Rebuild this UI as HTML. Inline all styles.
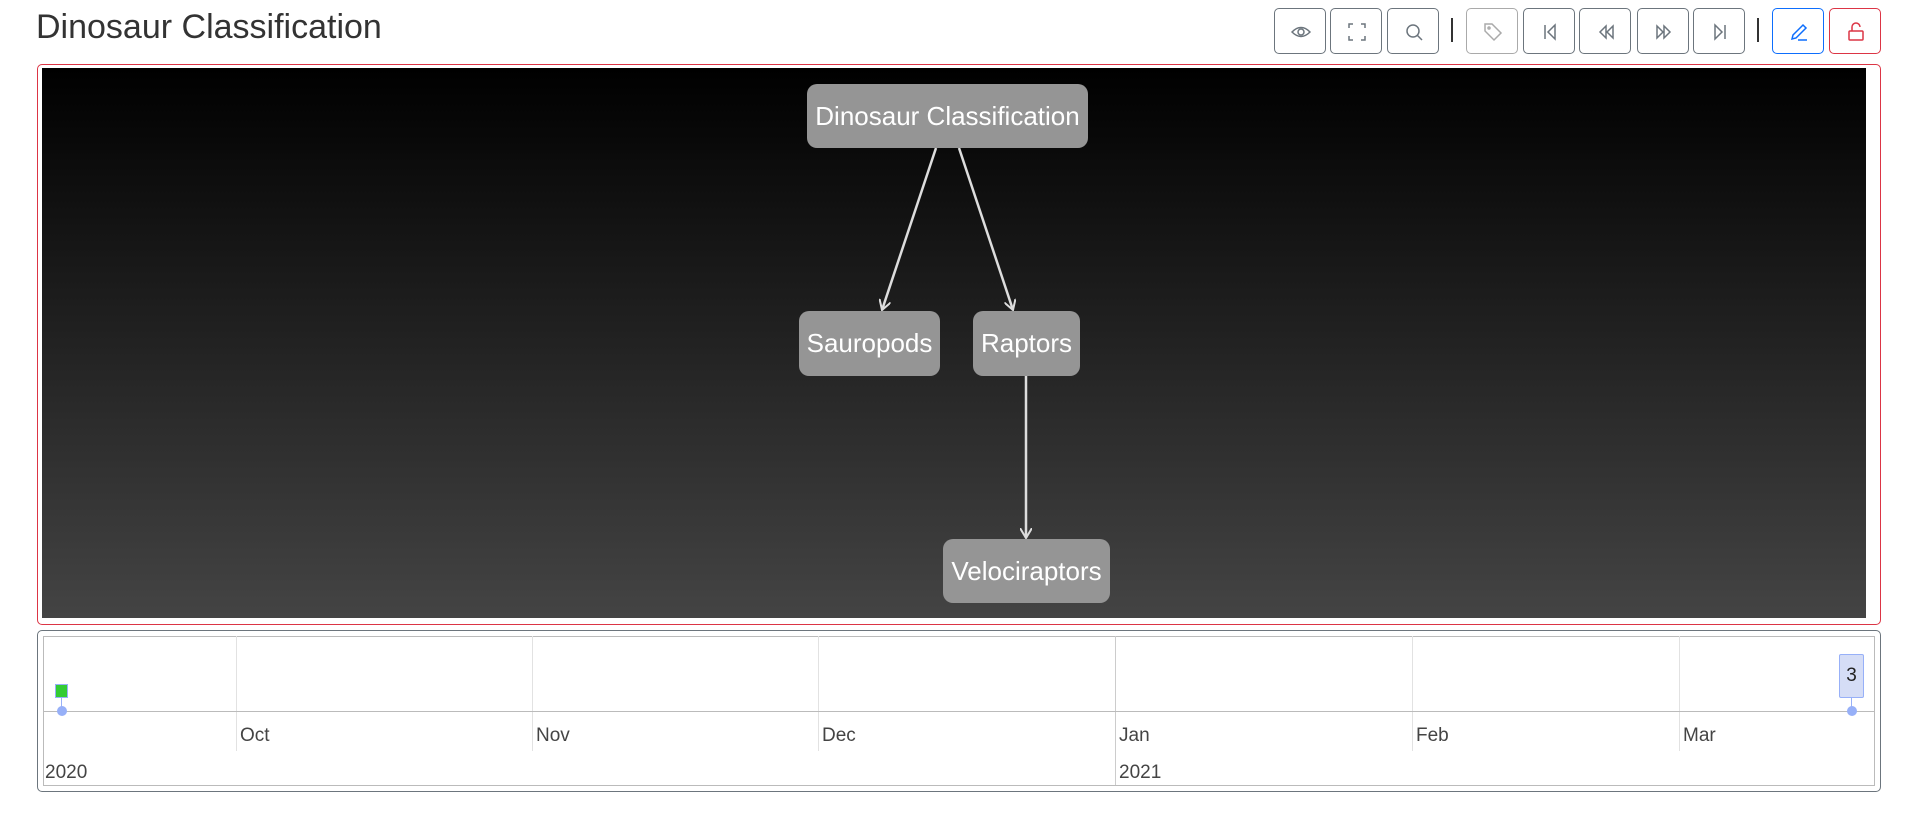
<!DOCTYPE html>
<html><head><meta charset="utf-8"><style>
body{margin:0;width:1915px;height:831px;background:#fff;font-family:"Liberation Sans",sans-serif;position:relative;overflow:hidden}
.a{position:absolute;box-sizing:border-box}
.btn{position:absolute;top:8px;width:52px;height:46px;border:1px solid #6c757d;border-radius:5px;box-sizing:border-box}
.btn svg{position:absolute;left:16px;top:13px}
.sep{position:absolute;top:18px;width:2px;height:24px;background:#333}
.node{position:absolute;box-sizing:border-box;background:#959595;color:#fff;border-radius:10px;font-size:26px;display:flex;align-items:center;justify-content:center}
.g{position:absolute;top:636px;width:1px;height:115px;background:#e2e2e2}
.lbl{position:absolute;top:725px;font-size:19px;color:#444}
</style></head><body>
<div class="a" style="left:36px;top:8px;font-size:34px;color:#333">Dinosaur Classification</div>

<div class="btn" style="left:1274px"><svg width="20" height="20" viewBox="0 0 20 20" fill="none" stroke="#6c757d" stroke-width="1.5"><path d="M1 10 Q10 1 19 10 Q10 19 1 10Z"/><circle cx="10" cy="10" r="3"/></svg></div>
<div class="btn" style="left:1330px"><svg width="20" height="20" viewBox="0 0 20 20" fill="none" stroke="#6c757d" stroke-width="1.5"><path d="M2 6V2H6M14 2H18V6M18 14V18H14M6 18H2V14"/></svg></div>
<div class="btn" style="left:1387px"><svg width="20" height="20" viewBox="0 0 20 20" fill="none" stroke="#6c757d" stroke-width="1.5"><circle cx="9" cy="9" r="6"/><path d="M13 13L18 18"/></svg></div>
<div class="sep" style="left:1451px"></div>
<div class="btn" style="left:1466px;border-color:#aaa"><svg width="20" height="20" viewBox="0 0 20 20" fill="none" stroke="#aaa" stroke-width="1.5"><path d="M2 2H9L18 11L11 18L2 9Z"/><circle cx="6" cy="6" r="1"/></svg></div>
<div class="btn" style="left:1523px"><svg width="20" height="20" viewBox="0 0 20 20" fill="none" stroke="#6c757d" stroke-width="1.5"><path d="M5 3V17M15 3L8 10L15 17Z"/></svg></div>
<div class="btn" style="left:1579px"><svg width="20" height="20" viewBox="0 0 20 20" fill="none" stroke="#6c757d" stroke-width="1.5"><path d="M10 4L4 10L10 16ZM17 4L11 10L17 16Z"/></svg></div>
<div class="btn" style="left:1637px"><svg width="20" height="20" viewBox="0 0 20 20" fill="none" stroke="#6c757d" stroke-width="1.5"><path d="M3 4L9 10L3 16ZM10 4L16 10L10 16Z"/></svg></div>
<div class="btn" style="left:1693px"><svg width="20" height="20" viewBox="0 0 20 20" fill="none" stroke="#6c757d" stroke-width="1.5"><path d="M15 3V17M5 3L12 10L5 17Z"/></svg></div>
<div class="sep" style="left:1757px"></div>
<div class="btn" style="left:1772px;border-color:#0d6efd"><svg width="20" height="20" viewBox="0 0 20 20" fill="none" stroke="#0d6efd" stroke-width="1.5"><path d="M3 17L4 13L14 3L17 6L7 16Z M9 18H18"/></svg></div>
<div class="btn" style="left:1829px;border-color:#dc3545"><svg width="20" height="20" viewBox="0 0 20 20" fill="none" stroke="#dc3545" stroke-width="1.5"><rect x="3" y="9" width="14" height="9" rx="1"/><path d="M6 9V5A4 4 0 0 1 14 5"/></svg></div>

<div class="a" style="left:37px;top:64px;width:1844px;height:561px;border:1px solid #dc3545;border-radius:5px"></div>
<div class="a" style="left:42px;top:68px;width:1824px;height:550px;background:linear-gradient(#000,#444)"></div>
<svg class="a" style="left:0;top:0" width="1915" height="831">
<defs><marker id="m" markerWidth="12" markerHeight="12" refX="10" refY="6" orient="auto" markerUnits="userSpaceOnUse"><path d="M0 0L10 6L0 12" fill="none" stroke="#ddd" stroke-width="2"/></marker></defs>
<g stroke="#ddd" stroke-width="2.5" fill="none">
<line x1="936" y1="148" x2="882" y2="310" marker-end="url(#m)"/>
<line x1="959" y1="148" x2="1013" y2="310" marker-end="url(#m)"/>
<line x1="1026" y1="376" x2="1026" y2="538" marker-end="url(#m)"/>
</g></svg>
<div class="node" style="left:807px;top:84px;width:281px;height:64px">Dinosaur Classification</div>
<div class="node" style="left:799px;top:311px;width:141px;height:65px">Sauropods</div>
<div class="node" style="left:973px;top:311px;width:107px;height:65px">Raptors</div>
<div class="node" style="left:943px;top:539px;width:167px;height:64px">Velociraptors</div>

<div class="a" style="left:37px;top:630px;width:1844px;height:162px;border:1px solid #6c757d;border-radius:5px"></div>
<div class="a" style="left:43px;top:636px;width:1832px;height:150px;border:1px solid #bbb"></div>
<div class="g" style="left:236px"></div><div class="g" style="left:532px"></div><div class="g" style="left:818px"></div>
<div class="g" style="left:1115px;height:149px;background:#ccc"></div><div class="g" style="left:1412px"></div><div class="g" style="left:1679px"></div>
<div class="a" style="left:43px;top:711px;width:1832px;height:1px;background:#bbb"></div>
<div class="lbl" style="left:240px">Oct</div><div class="lbl" style="left:536px">Nov</div><div class="lbl" style="left:822px">Dec</div>
<div class="lbl" style="left:1119px">Jan</div><div class="lbl" style="left:1416px">Feb</div><div class="lbl" style="left:1683px">Mar</div>
<div class="lbl" style="left:45px;top:762px">2020</div><div class="lbl" style="left:1119px;top:762px">2021</div>
<div class="a" style="left:61px;top:697px;width:1px;height:14px;background:#97b0f8"></div>
<div class="a" style="left:55px;top:684px;width:13px;height:14px;background:#33cc33;border:1px solid #97b0f8"></div>
<div class="a" style="left:57px;top:706px;width:10px;height:10px;border-radius:50%;background:#97b0f8"></div>
<div class="a" style="left:1851px;top:697px;width:1px;height:14px;background:#97b0f8"></div>
<div class="a" style="left:1839px;top:654px;width:25px;height:44px;background:#d5ddf6;border:1px solid #97b0f8;border-radius:2px;font-size:19px;color:#222;display:flex;align-items:center;justify-content:center">3</div>
<div class="a" style="left:1847px;top:706px;width:10px;height:10px;border-radius:50%;background:#97b0f8"></div>
</body></html>
